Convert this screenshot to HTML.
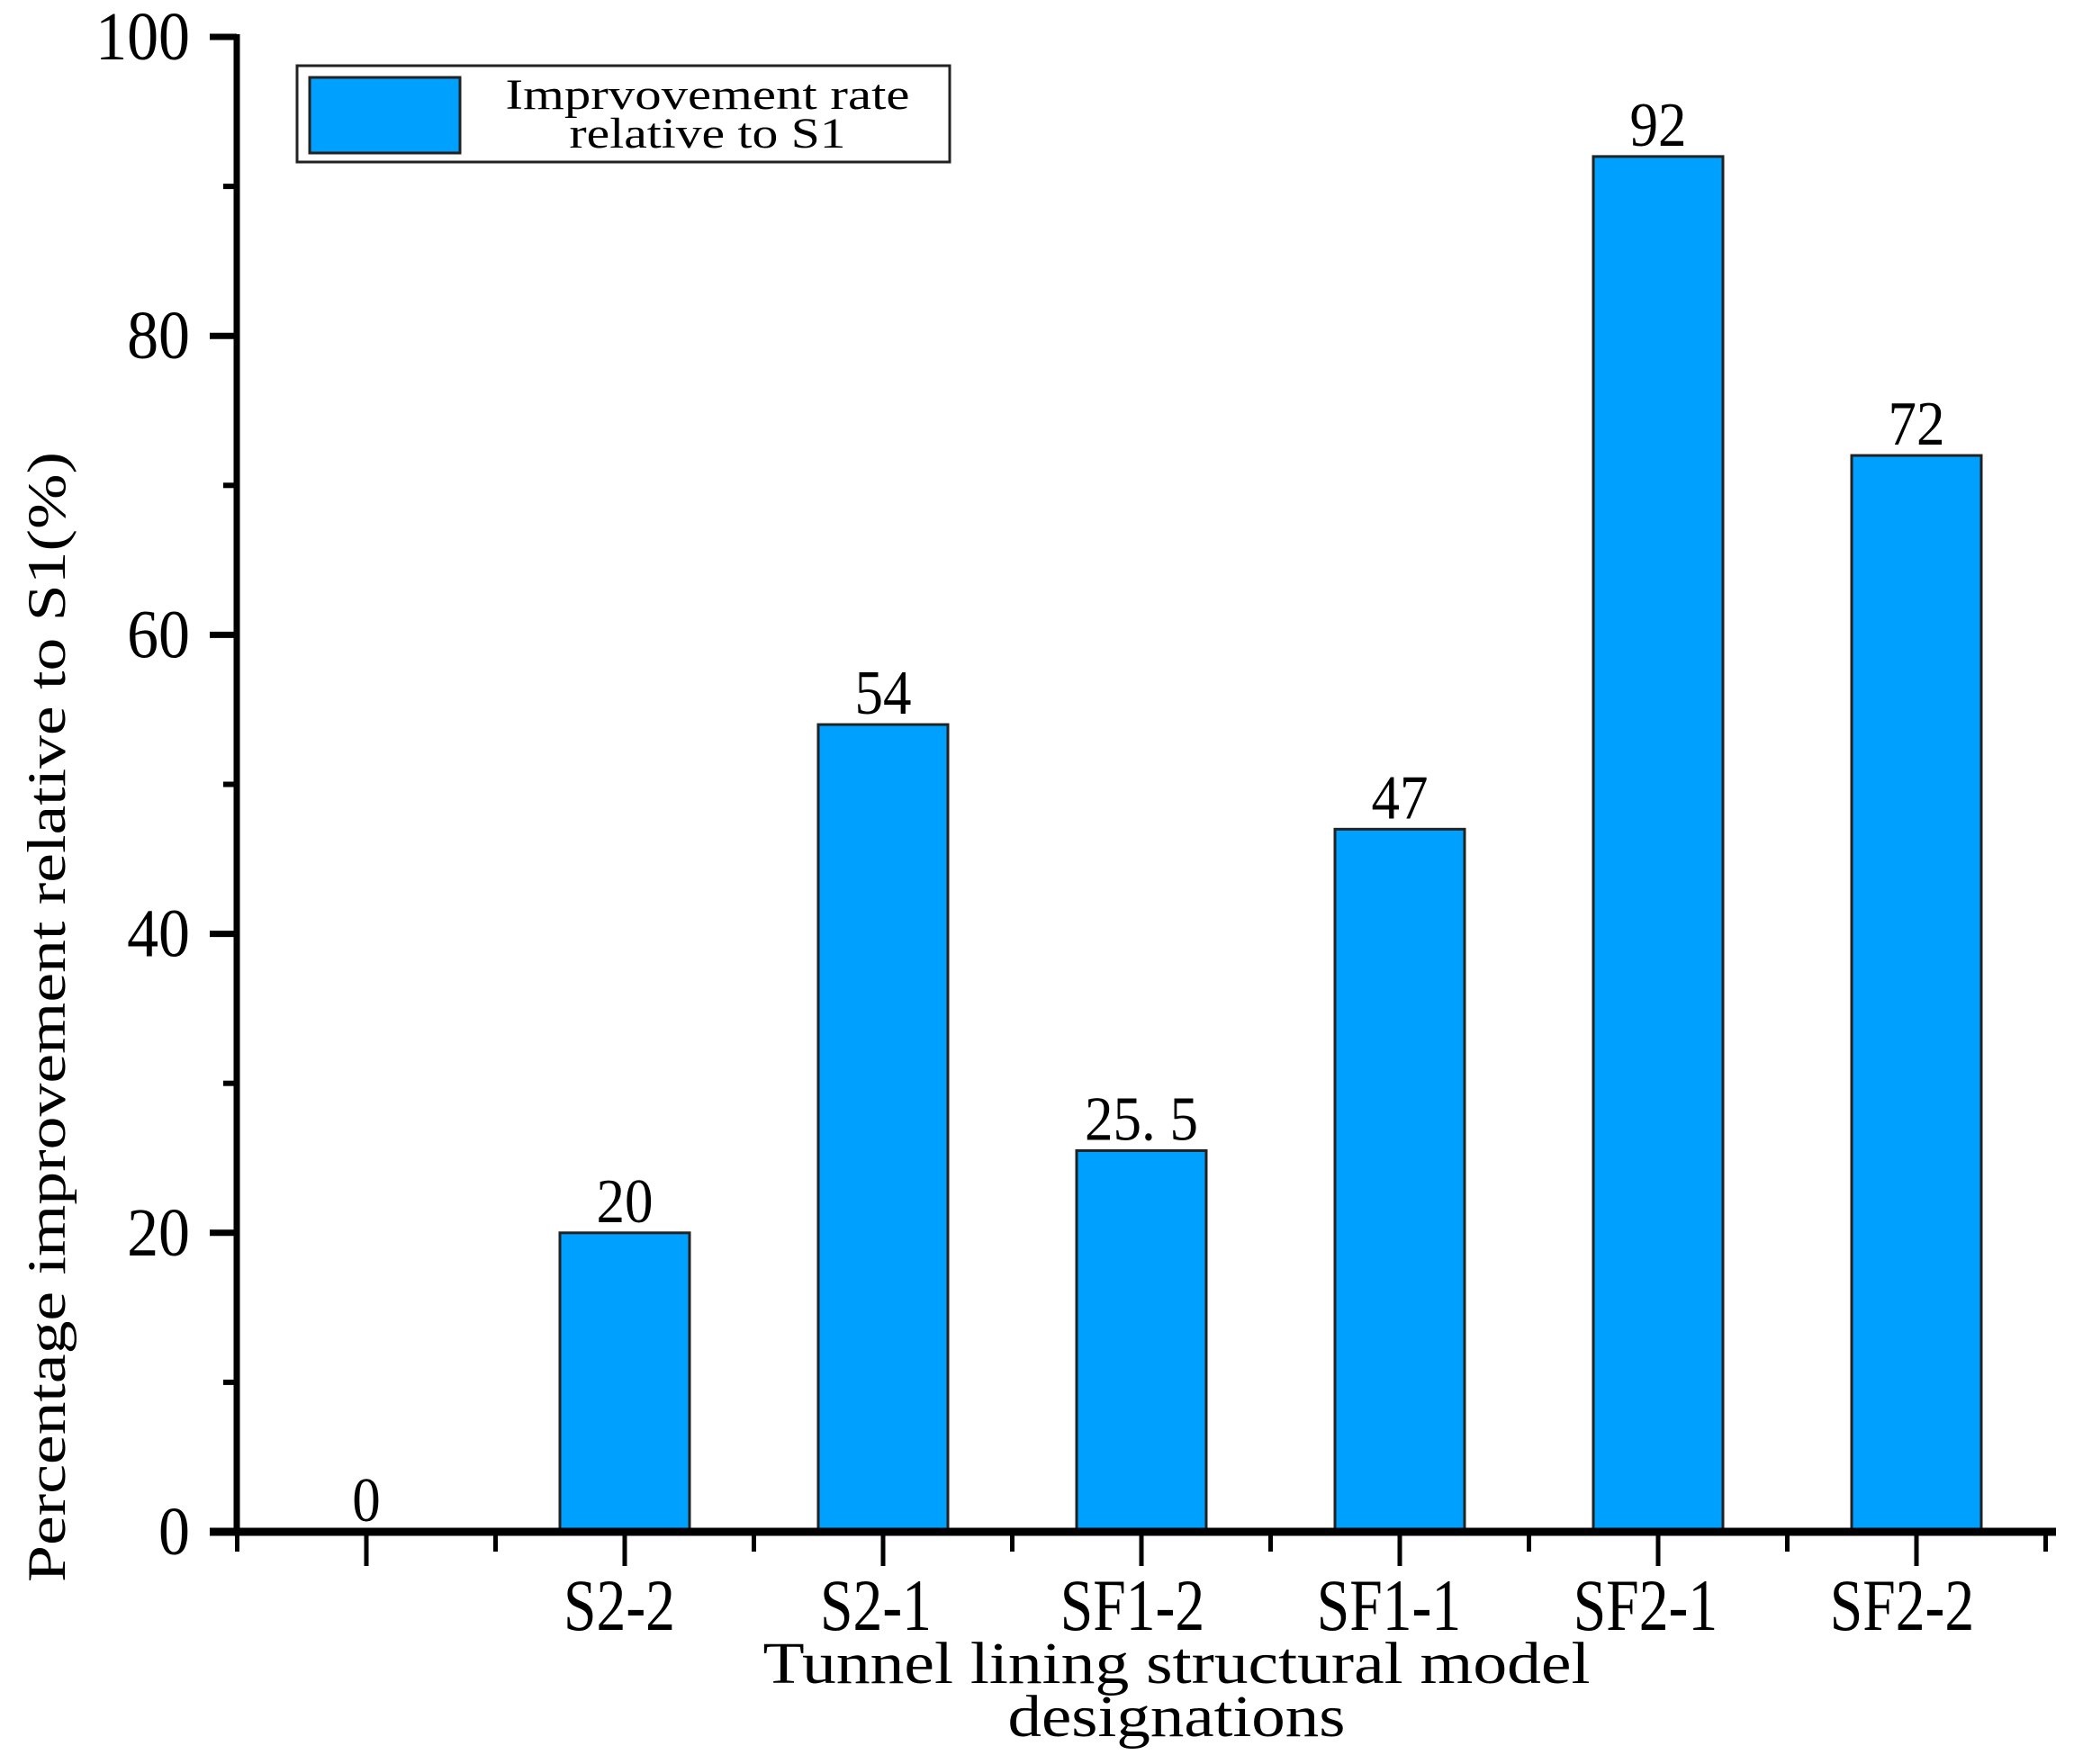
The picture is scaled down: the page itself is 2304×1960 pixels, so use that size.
<!DOCTYPE html>
<html><head><meta charset="utf-8"><style>
html,body{margin:0;padding:0;background:#fff;}
svg{display:block;font-family:"Liberation Serif","Noto Serif CJK SC",serif;}
</style></head><body>
<svg id="chart" width="2304" height="1960" viewBox="0 0 2304 1960" xmlns="http://www.w3.org/2000/svg">
<g id="bars"></g>
<g id="axes"></g>
<g>
<rect x="330" y="73" width="725" height="107" fill="#fff" stroke="#222" stroke-width="3"/>
<rect x="344" y="86" width="167" height="84" fill="#00A0FF" stroke="#222" stroke-width="3"/>
<text x="786" y="121" font-size="48" text-anchor="middle" textLength="449" lengthAdjust="spacingAndGlyphs">Imprvovement rate</text>
<text x="786" y="164" font-size="48" text-anchor="middle" textLength="307" lengthAdjust="spacingAndGlyphs">relative to S1</text>
</g>
<text transform="translate(72,1130) rotate(-90)" font-size="60" text-anchor="middle" textLength="1256" lengthAdjust="spacingAndGlyphs">Percentage improvement relative to S1(%)</text>
<text x="1307" y="1870" font-size="66" text-anchor="middle" textLength="919" lengthAdjust="spacingAndGlyphs">Tunnel lining structural model</text>
<text x="1307" y="1929" font-size="66" text-anchor="middle" textLength="375" lengthAdjust="spacingAndGlyphs">designations</text>
</svg>
<script>
const categories = ["", "S2-2", "S2-1", "SF1-2", "SF1-1", "SF2-1", "SF2-2"];
const values = [0, 20, 54, 25.5, 47, 92, 72];
const valueLabels = ["0", "20", "54", "25. 5", "47", "92", "72"];
const yTicks = [0, 20, 40, 60, 80, 100];
const yMinorTicks = [10, 30, 50, 70, 90];

const NS = "http://www.w3.org/2000/svg";
const y0 = 1702, y100 = 41, axisX = 263, axisEnd = 2281;
const x0 = 407, step = 287, barW = 144;
function yScale(v){ return y0 - (y0 - y100) * v / 100; }
function xScale(i){ return x0 + step * i; }
function mk(tag, attrs, parent){
  const e = document.createElementNS(NS, tag);
  for (const k in attrs) e.setAttribute(k, attrs[k]);
  parent.appendChild(e); return e;
}
const bars = document.getElementById('bars');
const axes = document.getElementById('axes');

values.forEach((v, i) => {
  const cx = xScale(i);
  if (v > 0) {
    const r = mk('rect', {x: cx - barW/2, y: yScale(v), width: barW, height: y0 - yScale(v), fill: '#00A0FF', stroke: '#222', 'stroke-width': 3}, bars);
    
    
  }
  const t = mk('text', {transform: 'translate(' + cx + ',' + (yScale(v) - 12) + ') scale(0.9,1)', 'font-size': 70, 'text-anchor': 'middle'}, bars);
  t.textContent = valueLabels[i];
  
  
  const c = mk('text', {transform: 'translate(' + (cx - 4 - i * 2) + ',1811) scale(0.8,1)', 'font-size': 82, 'text-anchor': 'middle'}, axes);
  c.textContent = categories[i];
  
  
  const tk = mk('line', {x1: cx, x2: cx, y1: y0, y2: y0 + 38, stroke: '#000', 'stroke-width': 5}, axes);
  
  
});
for (let i = 0; i <= categories.length; i++) {
  const mx = xScale(i) - step/2;
  const tk = mk('line', {x1: mx, x2: mx, y1: y0, y2: y0 + 22, stroke: '#000', 'stroke-width': 5}, axes);
  
  
}
yTicks.forEach(v => {
  const y = yScale(v);
  const tk = mk('line', {x1: 233, x2: axisX, y1: y, y2: y, stroke: '#000', 'stroke-width': 7}, axes);
  
  
  const t = mk('text', {transform: 'translate(211,' + (y + 25) + ') scale(0.92,1)', 'font-size': 76, 'text-anchor': 'end'}, axes);
  t.textContent = String(v);
  
  
});
yMinorTicks.forEach(v => {
  const y = yScale(v);
  const tk = mk('line', {x1: 248, x2: axisX, y1: y, y2: y, stroke: '#000', 'stroke-width': 6}, axes);
  
  
});
const ya = mk('line', {x1: axisX, x2: axisX, y1: y100 - 3, y2: y0 + 3, stroke: '#000', 'stroke-width': 7}, axes);


const xa = mk('line', {x1: 233, x2: axisEnd + 3, y1: y0, y2: y0, stroke: '#000', 'stroke-width': 9}, axes);


</script>
</body></html>
